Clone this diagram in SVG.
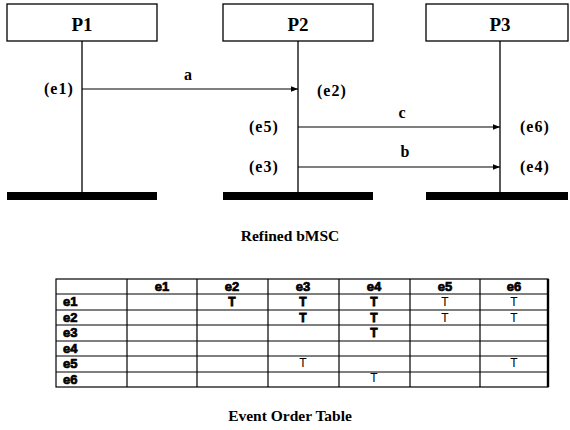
<svg xmlns="http://www.w3.org/2000/svg" width="570" height="430" viewBox="0 0 570 430">
<style>
.box{fill:#fff;stroke:#000;stroke-width:1.3}
.life{stroke:#000;stroke-width:1.3}
.bar{fill:#000}
.msg{stroke:#000;stroke-width:1.2;fill:none}
.pl{font-family:"Liberation Serif",serif;font-weight:bold;font-size:19px;text-anchor:middle}
.ev{font-family:"Liberation Serif",serif;font-weight:bold;font-size:16px;letter-spacing:1px}
.ml{font-family:"Liberation Serif",serif;font-weight:bold;font-size:16px;text-anchor:middle}
.cap{font-family:"Liberation Serif",serif;font-weight:bold;font-size:15.5px;text-anchor:middle}
.grid{stroke:#000;stroke-width:1.2;fill:none}
.th{font-family:"Liberation Sans",Arial,sans-serif;font-weight:bold;font-size:13px;text-anchor:middle;stroke:#000;stroke-width:0.7}
.rh{font-family:"Liberation Sans",Arial,sans-serif;font-weight:bold;font-size:13px;stroke:#000;stroke-width:0.7}
.tb{font-family:"Liberation Sans",Arial,sans-serif;font-weight:bold;font-size:12px;text-anchor:middle;stroke:#000;stroke-width:0.8}
.tt{font-family:"Liberation Sans",Arial,sans-serif;font-size:12px;text-anchor:middle;fill:#000}
</style>
<defs>
<marker id="ah" viewBox="0 0 10 10" refX="10" refY="5" markerWidth="9" markerHeight="7" markerUnits="userSpaceOnUse" orient="auto">
<path d="M0,1 L10,5 L0,9 z" fill="#000"/>
</marker>
</defs>
<g id="P1">
<rect class="box" x="7" y="4" width="150" height="37"/>
<text class="pl" x="82" y="31">P1</text>
<line class="life" x1="82" y1="41" x2="82" y2="193"/>
<rect class="bar" x="7" y="192" width="150" height="8"/>
</g>
<g id="P2">
<rect class="box" x="223" y="4" width="150" height="37"/>
<text class="pl" x="298" y="31">P2</text>
<line class="life" x1="298" y1="41" x2="298" y2="193"/>
<rect class="bar" x="223" y="192" width="150" height="8"/>
</g>
<g id="P3">
<rect class="box" x="426" y="4" width="142" height="37"/>
<text class="pl" x="500" y="31">P3</text>
<line class="life" x1="500" y1="41" x2="500" y2="193"/>
<rect class="bar" x="426" y="192" width="142" height="8"/>
</g>
<g id="events">
<text class="ev" x="44" y="94">(e1)</text>
<text class="ev" x="317" y="96">(e2)</text>
<text class="ev" x="249" y="132">(e5)</text>
<text class="ev" x="249" y="172">(e3)</text>
<text class="ev" x="520" y="132">(e6)</text>
<text class="ev" x="520" y="172">(e4)</text>
</g>
<g id="connectors">
<line class="msg" x1="82" y1="89" x2="298" y2="89" marker-end="url(#ah)"/>
<text class="ml" x="188" y="80">a</text>
<line class="msg" x1="298" y1="127" x2="500" y2="127" marker-end="url(#ah)"/>
<text class="ml" x="402" y="118">c</text>
<line class="msg" x1="298" y1="167" x2="500" y2="167" marker-end="url(#ah)"/>
<text class="ml" x="405" y="157">b</text>
</g>
<text class="cap" x="290" y="241">Refined bMSC</text>
<g id="table">
<rect class="grid" x="56" y="279" width="492" height="108"/>
<line x1="548" y1="279" x2="548" y2="387" stroke="#000" stroke-width="2.4"/>
<g class="grid">
<line x1="56" y1="294" x2="548" y2="294"/>
<line x1="56" y1="310" x2="548" y2="310"/>
<line x1="56" y1="325" x2="548" y2="325"/>
<line x1="56" y1="341" x2="548" y2="341"/>
<line x1="56" y1="356" x2="548" y2="356"/>
<line x1="56" y1="372" x2="548" y2="372"/>
<line x1="127" y1="279" x2="127" y2="387"/>
<line x1="197" y1="279" x2="197" y2="387"/>
<line x1="268" y1="279" x2="268" y2="387"/>
<line x1="339" y1="279" x2="339" y2="387"/>
<line x1="410" y1="279" x2="410" y2="387"/>
<line x1="480" y1="279" x2="480" y2="387"/>
</g>
<text class="th" x="162" y="291">e1</text>
<text class="th" x="232" y="291">e2</text>
<text class="th" x="303" y="291">e3</text>
<text class="th" x="374" y="291">e4</text>
<text class="th" x="445" y="291">e5</text>
<text class="th" x="514" y="291">e6</text>
<text class="rh" x="63" y="306">e1</text>
<text class="rh" x="63" y="322">e2</text>
<text class="rh" x="63" y="337">e3</text>
<text class="rh" x="63" y="353">e4</text>
<text class="rh" x="63" y="368">e5</text>
<text class="rh" x="63" y="384">e6</text>
<text class="tb" x="232" y="306">T</text>
<text class="tb" x="303" y="306">T</text>
<text class="tb" x="374" y="306">T</text>
<text class="tt" x="445" y="306">T</text>
<text class="tt" x="514" y="306">T</text>
<text class="tb" x="303" y="322">T</text>
<text class="tb" x="374" y="322">T</text>
<text class="tt" x="445" y="322">T</text>
<text class="tt" x="514" y="322">T</text>
<text class="tb" x="374" y="337">T</text>
<text class="tt" x="303" y="367">T</text>
<text class="tt" x="514" y="367">T</text>
<text class="tt" x="374" y="382">T</text>
</g>
<text class="cap" x="290" y="421">Event Order Table</text>
</svg>
